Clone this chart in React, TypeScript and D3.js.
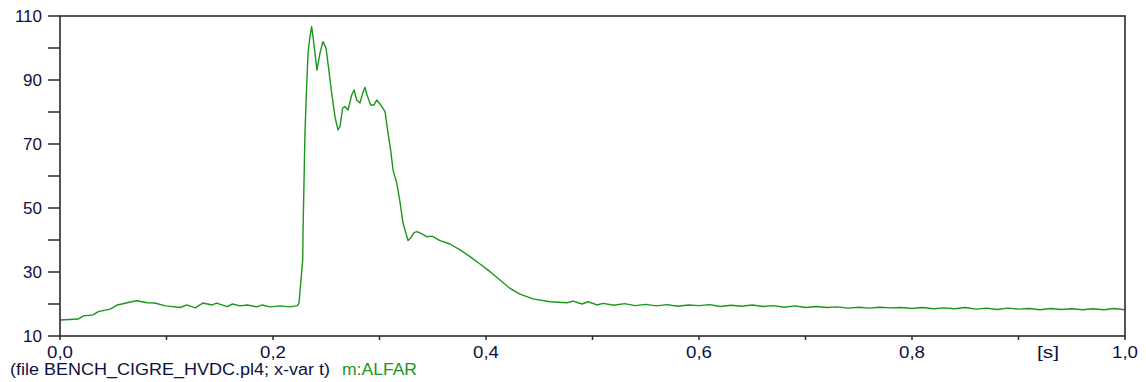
import React from "react";
import * as d3 from "d3";

const times: number[] = [
  0.0, 0.017, 0.022, 0.031, 0.036, 0.047, 0.054, 0.063, 0.072, 0.082, 0.089, 0.099,
  0.113, 0.119, 0.127, 0.134, 0.143, 0.147, 0.157, 0.162, 0.169, 0.176, 0.185, 0.19,
  0.197, 0.207, 0.216, 0.223, 0.2244, 0.2279, 0.2282, 0.2291, 0.23, 0.2316, 0.2329,
  0.2347, 0.2363, 0.2376, 0.2394, 0.2413, 0.2441, 0.2469, 0.2498, 0.2516, 0.2551,
  0.2582, 0.261, 0.2629, 0.2654, 0.2676, 0.2704, 0.2739, 0.2761, 0.2786, 0.2817,
  0.2842, 0.2864, 0.2883, 0.2917, 0.2948, 0.2974, 0.3005, 0.3052, 0.308, 0.3105,
  0.3127, 0.3162, 0.3192, 0.3221, 0.3268, 0.3296, 0.3324, 0.3352, 0.3399, 0.3446,
  0.3493, 0.3568, 0.3662, 0.3756, 0.385, 0.3944, 0.4038, 0.4131, 0.4225, 0.4319,
  0.4441, 0.4601, 0.4761, 0.4817, 0.4901, 0.4958, 0.5042,
  0.51, 0.52, 0.53, 0.54, 0.55, 0.56, 0.57, 0.58, 0.59, 0.6, 0.61, 0.62, 0.63, 0.64,
  0.65, 0.66, 0.67, 0.68, 0.69, 0.7, 0.71, 0.72, 0.73, 0.74, 0.75, 0.76, 0.77, 0.78,
  0.79, 0.8, 0.81, 0.82, 0.83, 0.84, 0.85, 0.86, 0.87, 0.88, 0.89, 0.9, 0.91, 0.92,
  0.93, 0.94, 0.95, 0.96, 0.97, 0.98, 0.99, 1.0,
];

const alfar: number[] = [
  15.0, 15.3, 16.3, 16.6, 17.6, 18.4, 19.7, 20.4, 21.0, 20.4, 20.3, 19.4,
  18.9, 19.7, 18.8, 20.3, 19.7, 20.3, 19.2, 20.0, 19.4, 19.7, 19.1, 19.7,
  19.1, 19.4, 19.1, 19.5, 20.3, 33.75, 42.5, 57.8, 73.4, 87.9, 98.4,
  103.5, 106.7, 103.5, 98.4, 93.1, 98.4, 102.0, 100.0, 95.3, 85.9,
  78.5, 74.4, 75.4, 81.25, 81.7, 80.6, 85.3, 86.9, 83.75, 82.8,
  85.9, 87.7, 85.3, 82.2, 82.2, 83.75, 82.5, 80.1, 73.4, 68.1,
  61.9, 57.8, 52.0, 45.3, 39.8, 40.8, 42.3, 42.6, 41.9, 41.0,
  41.2, 39.8, 38.75, 36.9, 34.8, 32.5, 30.1, 27.5, 24.9, 23.1,
  21.6, 20.7, 20.4, 20.9, 20.0, 20.7, 19.7,
  20.2, 19.6, 20.1, 19.5, 19.9, 19.4, 19.8, 19.3, 19.7, 19.5, 19.8, 19.2, 19.6, 19.3,
  19.7, 19.2, 19.5, 19.0, 19.4, 18.9, 19.2, 18.9, 19.1, 18.7, 19.0, 18.7, 19.0, 18.8,
  18.9, 18.6, 18.9, 18.5, 18.8, 18.5, 18.9, 18.4, 18.7, 18.3, 18.7, 18.4, 18.6, 18.2,
  18.6, 18.3, 18.5, 18.2, 18.5, 18.2, 18.6, 18.2,
];

const yTicks: number[] = [10, 20, 30, 40, 50, 60, 70, 80, 90, 100, 110];
const yLabels: number[] = [10, 30, 50, 70, 90, 110];
const xTicks: number[] = [0, 0.1, 0.2, 0.3, 0.4, 0.5, 0.6, 0.7, 0.8, 0.9, 1.0];
const xLabels: string[] = ["0,0", "0,2", "0,4", "0,6", "0,8", "1,0"];
const xLabelValues: number[] = [0, 0.2, 0.4, 0.6, 0.8, 1.0];
const unitLabel = "[s]";
const footerText = "(file BENCH_CIGRE_HVDC.pl4; x-var t)";
const seriesName = "m:ALFAR";

const W = 1146;
const H = 382;
const L = 60, R = 1125, T = 16, B = 336;
const textColor = "#101040";
const lineColor = "#1a961a";
const font = "'Liberation Sans', Arial, sans-serif";

export default function App() {
  const x = d3.scaleLinear().domain([0, 1]).range([L, R]);
  const y = d3.scaleLinear().domain([10, 110]).range([B, T]);
  const pts = times.map((t, i) => [t, alfar[i]] as [number, number]);
  const line = d3.line<[number, number]>().x((d) => x(d[0])).y((d) => y(d[1]));

  return (
    <svg width={W} height={H} style={{ position: "absolute", left: 0, top: 0, background: "#fff" }}>
      <rect x={0} y={0} width={W} height={H} fill="#fff" />
      <path d={line(pts) || ""} fill="none" stroke={lineColor} strokeWidth={1.4} strokeLinejoin="round" />
      <rect x={L} y={T} width={R - L} height={B - T} fill="none" stroke="#2a2a2a" strokeWidth={1.6} />
      {yTicks.map((v) => (
        <line key={"yt" + v} x1={48} x2={L} y1={y(v)} y2={y(v)} stroke="#2a2a2a" strokeWidth={1.5} />
      ))}
      {xTicks.map((v) => (
        <line key={"xt" + v} x1={x(v)} x2={x(v)} y1={B} y2={B + 4} stroke="#2a2a2a" strokeWidth={1.5} />
      ))}
      {yLabels.map((v) => (
        <text key={"yl" + v} x={42} y={y(v)} dy="0.35em" textAnchor="end" fontFamily={font} fontSize={17} fill={textColor}>
          {v}
        </text>
      ))}
      {xLabelValues.map((v, i) => (
        <text key={"xl" + v} x={x(v)} y={358} textAnchor="middle" fontFamily={font} fontSize={17}
          textLength={26} lengthAdjust="spacingAndGlyphs" fill={textColor}>
          {xLabels[i]}
        </text>
      ))}
      <text x={1048} y={358} textAnchor="middle" fontFamily={font} fontSize={17} textLength={22}
        lengthAdjust="spacingAndGlyphs" fill={textColor}>
        {unitLabel}
      </text>
      <text x={10} y={375} fontFamily={font} fontSize={16} textLength={320} lengthAdjust="spacingAndGlyphs" fill={textColor}>
        {footerText}
      </text>
      <text x={342} y={375} fontFamily={font} fontSize={16} textLength={75} lengthAdjust="spacingAndGlyphs" fill={lineColor}>
        {seriesName}
      </text>
    </svg>
  );
}
